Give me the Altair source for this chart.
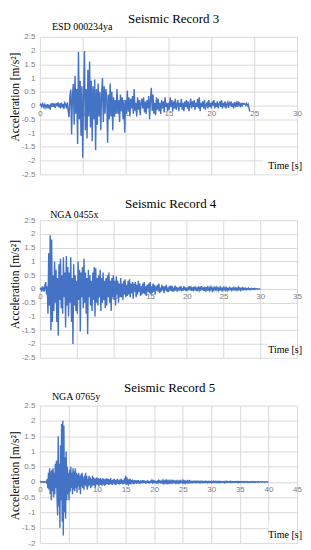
import altair as alt
import numpy as np
import pandas as pd

DT = 0.1  # sampling step of the digitised records [s]

# Record 3 (ESD 000234ya), 0 .. 24.5 s
rec3_acc = [
    0.00, 0.05, -0.03, 0.06, -0.05, 0.04, -0.08, 0.02, -0.06, 0.05,
    -0.10, 0.03, -0.15, 0.08, -0.05, 0.10, -0.04, 0.07, -0.08, 0.09,
    -0.02, 0.12, -0.06, 0.08, -0.10, 0.11, -0.03, 0.06, -0.12, 0.10,
    0.05, -0.10, 0.12, -0.20, -0.42, 0.35, 0.58, -1.05, 0.40, 0.78,
    -0.70, 1.08, -0.30, 0.60, -1.40, 1.95, -0.50, 0.90, -1.10, 0.70,
    -1.90, 0.50, 1.98, -0.90, 0.60, -1.20, 1.30, -0.40, 1.60, -0.80,
    0.90, -1.30, 0.70, -0.50, 0.95, -1.62, 0.60, -0.70, 0.80, -0.40,
    0.50, -0.90, 0.40, 1.00, -0.60, 0.70, -0.30, 0.60, 0.30, -1.35,
    0.40, -0.50, 0.80, -0.40, 0.50, -0.90, 0.30, -0.40, 0.20, -0.30,
    0.60, -0.30, 0.20, -0.60, 0.40, -0.20, 0.30, -0.50, 0.20, -0.98,
    0.20, -0.30, 0.55, -0.20, 0.30, -0.40, 0.25, -0.10, 0.35, -0.30,
    0.60, -0.20, 0.10, -0.40, 0.30, -0.15, 0.20, -0.35, 0.10, 0.25,
    -0.10, 0.30, -0.25, 0.15, -0.30, 0.20, -0.10, 0.35, -0.50, 0.20,
    0.65, -0.20, 0.40, -0.30, 0.10, -0.35, 0.30, -0.15, 0.25, -0.20,
    0.10, -0.30, 0.20, -0.10, 0.15, -0.25, 0.30, -0.05, 0.10, -0.20,
    0.10, -0.15, 0.30, -0.05, 0.20, -0.20, 0.15, -0.10, 0.25, -0.15,
    0.05, 0.20, -0.20, 0.10, -0.05, 0.25, -0.15, 0.10, -0.20, 0.15,
    -0.05, 0.20, -0.10, 0.15, -0.20, 0.05, 0.25, -0.10, 0.15, -0.05,
    0.20, -0.15, 0.10, -0.05, 0.25, -0.10, 0.30, -0.20, 0.10, -0.05,
    0.15, -0.10, 0.20, -0.15, 0.05, 0.10, -0.10, 0.20, -0.05, 0.10,
    -0.10, 0.15, 0.00, 0.20, -0.10, 0.10, -0.05, 0.15, -0.10, 0.05,
    0.15, -0.05, 0.20, -0.10, 0.10, 0.00, 0.15, -0.10, 0.05, 0.12,
    -0.08, 0.10, 0.02, 0.15, -0.05, 0.08, -0.10, 0.12, 0.00, 0.10,
    -0.05, 0.15, 0.02, 0.08, -0.06, 0.10, 0.00, 0.08, 0.05, 0.07,
    0.02, 0.08, 0.00, 0.05, -0.10, -0.22,
]

# Record 4 (NGA 0455x), 0 .. 30 s
rec4_acc = [
    0.00, 0.02, -0.05, 0.05, -0.03, 0.08, -0.10, 0.15, 0.25, -0.20,
    0.10, -0.90, 1.30, -0.60, 1.95, -1.50, 1.80, -1.20, 0.50, -0.80,
    1.00, -0.50, 0.70, -1.20, 0.40, -1.70, 0.90, -0.40, 1.10, -0.70,
    0.50, -0.90, 1.15, -0.30, 0.60, -1.40, 1.20, -0.60, 0.80, -1.00,
    0.60, -0.50, 1.15, -1.20, 0.40, -2.00, 0.90, -0.60, 0.50, -0.80,
    0.30, -0.90, 1.00, -0.40, 0.70, -1.55, 0.60, -0.30, 0.80, -0.70,
    1.10, -0.50, 0.60, -0.90, 0.40, -1.65, 0.70, -0.30, 0.50, -0.60,
    0.30, -0.80, 0.60, -0.40, 0.80, -1.00, 0.75, -0.50, 0.40, -0.60,
    0.50, -0.30, 0.70, -0.80, 0.40, -0.50, 0.60, -0.40, 0.30, -0.70,
    0.40, -0.60, 0.50, -0.30, 0.60, -0.50, 0.30, -0.80, 0.40, -0.30,
    0.50, -0.40, 0.30, -0.60, 0.45, -0.20, 0.30, -0.50, 0.20, -0.30,
    0.40, -0.30, 0.20, -0.40, 0.30, -0.20, 0.35, -0.30, 0.15, -0.25,
    0.30, -0.20, 0.35, -0.30, 0.20, -0.15, 0.25, -0.35, 0.20, -0.10,
    0.25, -0.30, 0.15, -0.20, 0.30, -0.10, 0.20, -0.25, 0.10, -0.20,
    0.20, -0.15, 0.25, -0.20, 0.10, -0.25, 0.15, -0.10, 0.20, -0.15,
    0.25, -0.20, 0.10, -0.15, 0.20, -0.10, 0.15, -0.20, 0.10, -0.05,
    0.15, -0.10, 0.20, -0.15, 0.05, -0.10, 0.15, -0.05, 0.10, -0.15,
    0.10, -0.05, 0.15, -0.10, 0.05, -0.12, 0.10, -0.05, 0.12, -0.08,
    0.10, -0.10, 0.05, -0.08, 0.12, -0.05, 0.08, -0.10, 0.05, -0.06,
    0.08, -0.05, 0.10, -0.08, 0.04, -0.06, 0.10, -0.04, 0.06, -0.08,
    0.05, -0.06, 0.08, -0.04, 0.10, -0.05, 0.04, -0.07, 0.06, -0.03,
    0.08, -0.05, 0.04, -0.08, 0.06, -0.03, 0.09, -0.05, 0.03, -0.06,
    0.10, -0.04, 0.06, -0.07, 0.03, -0.05, 0.07, -0.03, 0.05, -0.06,
    0.04, -0.05, 0.06, -0.03, 0.05, -0.06, 0.03, -0.04, 0.05, -0.02,
    0.06, -0.04, 0.03, -0.05, 0.04, -0.03, 0.05, -0.04, 0.02, -0.05,
    0.04, -0.02, 0.05, -0.04, 0.03, -0.05, 0.02, -0.03, 0.04, -0.02,
    0.03, -0.04, 0.02, -0.03, 0.05, -0.02, 0.03, -0.04, 0.02, -0.03,
    0.06, -0.02, 0.03, -0.04, 0.02, -0.03, 0.04, -0.02, 0.03, -0.02,
    0.02, -0.03, 0.02, -0.01, 0.03, -0.02, 0.01, -0.02, 0.02, -0.01,
    0.01, -0.01, 0.02, -0.01, 0.01, 0.00, 0.01, -0.01, 0.00, 0.00,
    0.00,
]

# Record 5 (NGA 0765y), 0 .. 40 s
rec5_acc = [
    0.00, 0.01, -0.01, 0.00, 0.01, 0.00, -0.01, 0.01, 0.00, 0.00,
    0.00, 0.02, -0.05, 0.10, -0.20, 0.30, -0.25, 0.45, -0.40, 0.35,
    -0.60, 0.40, -0.30, 0.45, -0.50, 0.30, -0.40, 0.60, -0.20, 0.70,
    -0.50, -1.10, 1.50, -0.80, 0.60, -1.50, 1.20, -0.60, 1.90, -1.30,
    2.00, -1.75, 1.85, -1.00, 0.80, -1.20, 1.00, -0.60, 0.50, -0.40,
    0.30, -0.60, 0.40, -0.30, 0.50, -0.20, 0.30, -0.40, 0.45, -0.25,
    0.35, -0.30, 0.45, -0.20, 0.30, -0.35, 0.25, -0.15, 0.30, -0.25,
    0.20, -0.40, 0.25, -0.15, 0.30, -0.20, 0.15, -0.25, 0.20, -0.10,
    0.30, -0.15, 0.20, -0.25, 0.10, -0.15, 0.20, -0.10, 0.15, -0.20,
    0.10, -0.15, 0.20, -0.10, 0.15, -0.12, 0.10, -0.18, 0.12, -0.08,
    0.15, -0.10, 0.12, -0.15, 0.10, -0.08, 0.14, -0.10, 0.08, -0.12,
    0.12, -0.08, 0.10, -0.12, 0.08, -0.10, 0.12, -0.06, 0.10, -0.08,
    0.10, -0.10, 0.08, -0.06, 0.12, -0.08, 0.06, -0.10, 0.08, -0.05,
    0.10, -0.08, 0.06, -0.10, 0.08, -0.05, 0.10, -0.07, 0.05, -0.08,
    0.08, -0.06, 0.10, -0.05, 0.07, -0.08, 0.05, -0.06, 0.12, -0.05,
    0.20, -0.10, 0.15, -0.08, 0.10, -0.12, 0.08, -0.06, 0.10, -0.08,
    0.06, -0.05, 0.08, -0.06, 0.05, -0.07, 0.06, -0.04, 0.05, -0.06,
    0.05, -0.04, 0.06, -0.05, 0.04, -0.06, 0.05, -0.03, 0.04, -0.05,
    0.06, -0.04, 0.05, -0.03, 0.04, -0.05, 0.03, -0.04, 0.05, -0.03,
    0.04, -0.05, 0.03, -0.04, 0.05, -0.03, 0.04, -0.02, 0.03, -0.04,
    0.05, -0.03, 0.04, -0.05, 0.03, -0.04, 0.05, -0.02, 0.04, -0.03,
    0.06, -0.04, 0.03, -0.05, 0.04, -0.02, 0.03, -0.04, 0.02, -0.03,
    0.03, -0.02, 0.04, -0.03, 0.02, -0.03, 0.03, -0.02, 0.04, -0.02,
    0.02, -0.03, 0.03, -0.02, 0.03, -0.01, 0.02, -0.03, 0.02, -0.02,
    0.03, -0.02, 0.02, -0.03, 0.02, -0.02, 0.03, -0.01, 0.02, -0.02,
    0.04, -0.02, 0.03, -0.02, 0.02, -0.03, 0.02, -0.01, 0.03, -0.02,
    0.02, -0.02, 0.03, -0.01, 0.02, -0.02, 0.01, -0.02, 0.02, -0.01,
    0.02, -0.01, 0.02, -0.02, 0.01, -0.02, 0.02, -0.01, 0.02, -0.02,
    0.01, -0.02, 0.02, -0.01, 0.02, -0.01, 0.01, -0.02, 0.01, -0.01,
    0.02, -0.01, 0.01, -0.02, 0.01, -0.01, 0.02, -0.01, 0.01, -0.01,
    0.02, -0.02, 0.01, -0.01, 0.02, -0.01, 0.01, -0.01, 0.02, -0.01,
    0.01, -0.01, 0.02, -0.01, 0.01, -0.02, 0.01, -0.01, 0.01, -0.01,
    0.01, -0.01, 0.01, -0.02, 0.01, -0.01, 0.02, -0.01, 0.01, -0.01,
    0.01, -0.01, 0.01, -0.01, 0.02, -0.01, 0.01, -0.01, 0.01, -0.01,
    0.01, -0.01, 0.01, -0.01, 0.01, -0.01, 0.01, -0.02, 0.01, -0.01,
    0.01, -0.01, 0.01, -0.01, 0.01, 0.00, 0.01, -0.01, 0.01, -0.01,
    0.01, 0.00, 0.01, -0.01, 0.01, -0.01, 0.00, -0.01, 0.01, 0.00,
    0.01, -0.01, 0.00, 0.01, -0.01, 0.00, 0.01, -0.01, 0.00, 0.01,
    0.00, -0.01, 0.01, 0.00, -0.01, 0.00, 0.01, 0.00, -0.01, 0.00,
    0.00, 0.01, 0.00, -0.01, 0.00, 0.00, 0.01, 0.00, 0.00, 0.00,
    0.00,
]

titles = ["Seismic Record 3", "Seismic Record 4", "Seismic Record 5"]
codes = ["ESD 000234ya", "NGA 0455x", "NGA 0765y"]
x_ticks = [[0, 5, 10, 15, 20, 25, 30],
           [0, 5, 10, 15, 20, 25, 30, 35],
           [0, 5, 10, 15, 20, 25, 30, 35, 40, 45]]
y_ticks = [[-2.5, -2, -1.5, -1, -0.5, 0, 0.5, 1, 1.5, 2, 2.5],
           [-2.5, -2, -1.5, -1, -0.5, 0, 0.5, 1, 1.5, 2, 2.5],
           [-2, -1.5, -1, -0.5, 0, 0.5, 1, 1.5, 2, 2.5]]
records = [rec3_acc, rec4_acc, rec5_acc]

# annotation anchors (data units)
title_x = [15.6, 17.8, 22.7]
title_dy = [-18, -16, -18]
code_x = [1.4, 1.4, 2.1]
code_dy = [-10, -5, -9]
box_x = [26.0, 30.9, 40.0]
box_top = [-1.93, -1.93, -1.3]
ytitle_y = [60, 64, 70]

W, H = 258, 138
SERIF = "Liberation Serif"
SANS = "Liberation Sans"
BLUE = "#4472C4"
GRID = "#d9d9d9"
LAB = "#808080"


def panel(i):
    acc = records[i]
    df = pd.DataFrame({"t": np.round(np.arange(len(acc)) * DT, 1), "a": acc})
    xmin, xmax = x_ticks[i][0], x_ticks[i][-1]
    ymin, ymax = y_ticks[i][0], y_ticks[i][-1]
    xs = alt.Scale(domain=[xmin, xmax], nice=False, zero=False)
    ys = alt.Scale(domain=[ymin, ymax], nice=False, zero=False)
    zero_off = -H * (0 - ymin) / (ymax - ymin)

    xaxis = alt.Axis(
        values=x_ticks[i], title=None, grid=True, gridColor=GRID,
        domain=False, ticks=False, labelFont=SANS, labelFontSize=8,
        labelColor=LAB, labelPadding=4, offset=zero_off,
        labelFlush=False, labelOverlap=False)
    yaxis = alt.Axis(
        values=y_ticks[i], title="Acceleration [m/s\u00b2]",
        titleFont=SERIF, titleFontSize=11.5, titleFontWeight="normal",
        titleColor="black", titlePadding=1, titleY=ytitle_y[i],
        grid=True, gridColor=GRID, domain=False, ticks=False,
        labelFont=SANS, labelFontSize=8, labelColor=LAB, labelPadding=5,
        labelOverlap=False, labelExpr="'' + datum.value")

    def X(v):
        return alt.datum(v, type="quantitative", scale=xs, axis=xaxis)

    def Y(v):
        return alt.datum(v, type="quantitative", scale=ys, axis=yaxis)

    line = alt.Chart(df).mark_line(color=BLUE, strokeWidth=1.4).encode(
        x=alt.X("t:Q", scale=xs, axis=xaxis),
        y=alt.Y("a:Q", scale=ys, axis=yaxis),
    )

    one = pd.DataFrame({"k": [0]})
    box = alt.Chart(one).mark_rect(color="white").encode(
        x=X(box_x[i]), x2=alt.datum(xmax),
        y=Y(ymin), y2=alt.datum(box_top[i]),
    )
    ttl = alt.Chart(one).mark_text(
        font=SERIF, fontSize=13, color="black", align="center",
        baseline="middle", dy=title_dy[i]).encode(
        x=X(title_x[i]), y=Y(ymax), text=alt.value(titles[i]))
    code = alt.Chart(one).mark_text(
        font=SERIF, fontSize=10, color="black", align="left",
        baseline="middle", dy=code_dy[i]).encode(
        x=X(code_x[i]), y=Y(ymax), text=alt.value(codes[i]))
    tlab = alt.Chart(one).mark_text(
        font=SERIF, fontSize=10, color="black", align="right",
        baseline="middle", dx=5, dy=-8).encode(
        x=X(xmax), y=Y(ymin), text=alt.value("Time [s]"))

    return alt.layer(line, box, ttl, code, tlab).properties(width=W, height=H)


chart = alt.vconcat(panel(0), panel(1), panel(2), spacing=18).configure(
    padding={"top": 3, "left": 0, "right": 0, "bottom": 0},
    background="white",
).configure_view(stroke="transparent").configure_axis(labelOverlap=False)

chart.save("out.html", embed_options={"renderer": "svg", "actions": False})
